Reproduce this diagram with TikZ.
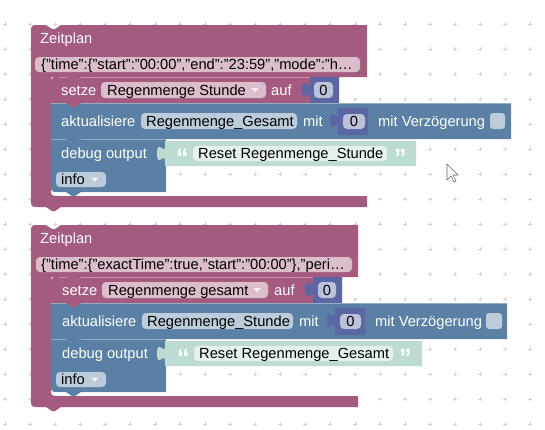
\documentclass[tikz,border=0pt]{standalone}
\usepackage{fontspec}
\setmainfont{Liberation Sans}
\definecolor{mag}{HTML}{A55B80}
\definecolor{blu}{HTML}{5B80A5}
\definecolor{pur}{HTML}{5B67A5}
\definecolor{shd}{HTML}{BDDBD1}
\definecolor{pmag}{HTML}{DBBDCC}
\definecolor{pblu}{HTML}{BDCCDB}
\definecolor{ppur}{HTML}{BDC2DB}
\definecolor{pshd}{HTML}{E5F1ED}
\definecolor{gridc}{HTML}{D2D2D2}
% statement block: x1 y1 x2 y2 colour top-radius bottom-radius
\newcommand\stmtblk[7]{%
 \fill[#5] (#1,#2+#6) .. controls (#1,#2) .. (#1+#6,#2) -- (#1+15,#2) -- (#1+21,#2+4) -- (#1+24,#2+4) -- (#1+30,#2) -- (#3,#2) -- (#3,#4) -- (#1+30,#4) -- (#1+24,#4+4) -- (#1+21,#4+4) -- (#1+15,#4) -- (#1+#7,#4) .. controls (#1,#4) .. (#1,#4-#7) -- cycle;
 \draw[white,opacity=.35,line width=.7] (#1+#6,#2+.4) -- (#1+15,#2+.4) (#1+30,#2+.4) -- (#3-.5,#2+.4);}
% value block: x1 y1 x2 y2 colour
\newcommand\valblk[5]{%
 \fill[#5] (#1,#2+5) -- (#1,#2) -- (#3,#2) -- (#3,#4) -- (#1,#4) -- (#1,#2+20) .. controls (#1,#2+10) and (#1-8,#2+28) .. (#1-8,#2+12.5) .. controls (#1-8,#2-3) and (#1,#2+15) .. (#1,#2+5) -- cycle;}
% Zeitplan C-block: dy right
\newcommand\zeitblk[2]{%
 \fill[mag] (31,#1+33) .. controls (31,#1+25) .. (39,#1+25) -- (46,#1+25) -- (52,#1+29) -- (55,#1+29) -- (61,#1+25) -- (#2,#1+25) -- (#2,#1+77) -- (81,#1+77) -- (75,#1+81) -- (72,#1+81) -- (66,#1+77) -- (51,#1+77) -- (51,#1+188) .. controls (51,#1+196) .. (59,#1+196) -- (#2,#1+196) -- (#2,#1+207) -- (61,#1+207) -- (55,#1+211) -- (52,#1+211) -- (46,#1+207) -- (39,#1+207) .. controls (31,#1+207) .. (31,#1+199) -- cycle;}
\newcommand\ddarrow[2]{\fill[white,opacity=.75] (#1-3.5,#2-1.8) -- (#1+3.5,#2-1.8) -- (#1,#2+2.2) -- cycle;}
\tikzset{
 txt/.style={inner sep=0pt, anchor=base west, font=\fontsize{14.67}{16}\selectfont},
 wt/.style={txt, text=white},
 bk/.style={txt, text=black},
 bkc/.style={bk, anchor=base},
 quo/.style={inner sep=0pt, anchor=base west, text=white, font=\fontsize{25}{26}\selectfont\bfseries},
 pill/.style={rounded corners=4pt}
}
\begin{document}
\begin{tikzpicture}[x=1pt,y=-1pt]
\useasboundingbox (0,0) rectangle (545,429);
\fill[white] (0,0) rectangle (545,429);
% grid
\foreach \i in {0,...,21} \foreach \j in {0,...,16}
  \draw[gridc,line width=.7] (5+25*\i-2,24+25*\j) -- (5+25*\i+2,24+25*\j) (5+25*\i,24+25*\j-2) -- (5+25*\i,24+25*\j+2);

% ================= block 1 =================
\zeitblk{0}{367}
\node[wt] (z1) at (40,43) {Zeitplan};
\fill[pmag,pill] (35,57) rectangle (360,72);
\node[bk] (j1) at (41,69.5) {\{"time":\{"start":"00:00","end":"23:59","mode":"h…};
% setze
\stmtblk{51}{77}{310}{103}{mag}{8}{0}
\valblk{310}{77}{339}{103}{pur}
\fill[pmag,pill] (101,82) rectangle (266,98);
\ddarrow{255}{90}
\fill[ppur,pill] (314,82) rectangle (333,98);
\node[wt] (s1) at (61,95) {setze};
\node[bk] (sv1) at (107,95) {Regenmenge Stunde};
\node[wt] (sa1) at (271,95) {auf};
\node[bkc] (sn1) at (323.5,95) {0};
% aktualisiere
\stmtblk{51}{103}{511}{139}{blu}{0}{0}
\fill[mag] (66,103) -- (72,107) -- (75,107) -- (81,103) -- cycle;
\valblk{338}{108}{368}{135}{pur}
\fill[pblu,pill] (141,113) rectangle (297,129);
\fill[ppur,pill] (343,114) rectangle (365,129);
\fill[pblu,rounded corners=3pt] (490,113) rectangle (505,129);
\node[wt] (a1) at (61,126) {aktualisiere};
\node[bk] (av1) at (146,126) {Regenmenge\_Gesamt};
\node[wt] (am1) at (303,126) {mit};
\node[bkc] (an1) at (354,126) {0};
\node[wt] (ad1) at (378,126) {mit Verzögerung};
% debug output
\stmtblk{51}{139}{166}{192}{blu}{0}{8}
\valblk{165}{141}{416}{166}{shd}
\fill[pshd,pill] (193,146) rectangle (387,161);
\fill[pblu,pill] (56,172) rectangle (106,187);
\ddarrow{95}{179.5}
\node[wt] (d1) at (61,158) {debug output};
\node[quo] (q1) at (176,166) {“};
\node[bk] (t1) at (198,158.5) {Reset Regenmenge\_Stunde};
\node[quo] (q2) at (394,166) {”};
\node[bk] (i1) at (61,184) {info};

% ================= block 2 =================
\zeitblk{200}{358}
\node[wt] (z2) at (40,243) {Zeitplan};
\fill[pmag,pill] (36,257) rectangle (352,272);
\node[bk] (j2) at (41,269.5) {\{"time":\{"exactTime":true,"start":"00:00"\},"peri…};
% setze
\stmtblk{51}{277}{313}{303}{mag}{8}{0}
\valblk{313}{277}{342}{303}{pur}
\fill[pmag,pill] (102,282) rectangle (268,298);
\ddarrow{257}{290}
\fill[ppur,pill] (318,282) rectangle (336,298);
\node[wt] (s2) at (62,295) {setze};
\node[bk] (sv2) at (108,295) {Regenmenge gesamt};
\node[wt] (sa2) at (274,295) {auf};
\node[bkc] (sn2) at (327,295) {0};
% aktualisiere
\stmtblk{51}{303}{507}{339}{blu}{0}{0}
\fill[mag] (66,303) -- (72,307) -- (75,307) -- (81,303) -- cycle;
\valblk{335}{308}{365}{335}{pur}
\fill[pblu,pill] (142,313) rectangle (293,329);
\fill[ppur,pill] (340,314) rectangle (361,329);
\fill[pblu,rounded corners=3pt] (486,313) rectangle (502,329);
\node[wt] (a2) at (62,326) {aktualisiere};
\node[bk] (av2) at (147,326) {Regenmenge\_Stunde};
\node[wt] (am2) at (299,326) {mit};
\node[bkc] (an2) at (350.5,326) {0};
\node[wt] (ad2) at (375,326) {mit Verzögerung};
% debug output
\stmtblk{51}{339}{166}{392}{blu}{0}{8}
\valblk{165}{341}{422}{366}{shd}
\fill[pshd,pill] (194,346) rectangle (393,361);
\fill[pblu,pill] (56,372) rectangle (106,387);
\ddarrow{95}{379.5}
\node[wt] (d2) at (62,358) {debug output};
\node[quo] (q3) at (177,366) {“};
\node[bk] (t2) at (199,358.5) {Reset Regenmenge\_Gesamt};
\node[quo] (q4) at (399,366) {”};
\node[bk] (i2) at (61,384) {info};

% mouse cursor
\draw[gray!80!black,fill=white,line width=.6,line join=miter] (447,164) -- (447,180) -- (451,176) -- (454,182) -- (456,181) -- (453,175) -- (458,175) -- cycle;
\end{tikzpicture}
\end{document}
